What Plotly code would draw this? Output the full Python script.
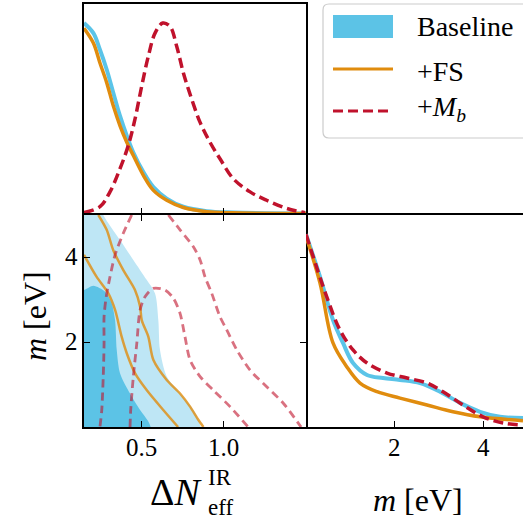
import plotly.graph_objects as go

W, H = 523, 522

# ---------------- data ----------------
# 1D posterior of Delta N_eff^IR (top-left)
dn_base_x = [0.15, 0.207, 0.247, 0.288, 0.328, 0.369, 0.41, 0.45, 0.511, 0.572, 0.653, 0.754, 0.896, 1.056, 1.5]
dn_base_p = [1.0, 0.947, 0.86, 0.756, 0.634, 0.512, 0.408, 0.32, 0.217, 0.138, 0.078, 0.035, 0.012, 0.005, 0.0]
dn_fs_x = [0.15, 0.207, 0.247, 0.288, 0.328, 0.369, 0.41, 0.45, 0.511, 0.572, 0.653, 0.754, 0.896, 1.05, 1.5]
dn_fs_p = [0.973, 0.895, 0.79, 0.687, 0.565, 0.46, 0.374, 0.304, 0.2, 0.121, 0.069, 0.031, 0.009, 0.003, 0.0]
dn_mb_x = [0.15, 0.247, 0.308, 0.369, 0.419, 0.46, 0.501, 0.541, 0.582, 0.629, 0.673, 0.714, 0.754, 0.805,
           0.856, 0.916, 0.977, 1.058, 1.16, 1.261, 1.383, 1.494]
dn_mb_p = [0.004, 0.035, 0.113, 0.235, 0.356, 0.495, 0.669, 0.825, 0.947, 1.0, 0.982, 0.877, 0.739, 0.6,
           0.478, 0.374, 0.287, 0.182, 0.113, 0.069, 0.026, 0.004]

# 1D posterior of m (bottom-right)
m_base_x = [0.0, 0.315, 0.608, 0.833, 1.059, 1.374, 1.734, 2.117, 2.568, 3.018, 3.468, 3.919, 4.369, 4.887]
m_base_p = [1.0, 0.78, 0.555, 0.436, 0.332, 0.27, 0.254, 0.244, 0.228, 0.183, 0.125, 0.079, 0.053, 0.047]
m_fs_x = [0.0, 0.315, 0.608, 0.917, 1.216, 1.6, 2.117, 2.725, 3.311, 3.919, 4.887]
m_fs_p = [0.99, 0.747, 0.436, 0.313, 0.228, 0.183, 0.15, 0.114, 0.079, 0.053, 0.033]
m_mb_x = [0.0, 0.466, 0.766, 1.059, 1.374, 1.824, 2.275, 2.725, 3.086, 3.536, 3.986, 4.437, 4.887]
m_mb_p = [1.0, 0.676, 0.503, 0.4, 0.332, 0.28, 0.254, 0.228, 0.183, 0.114, 0.053, 0.021, 0.01]

# 2D contours (Delta N_eff^IR, m)
base95_x = [0.267, 0.369, 0.45, 0.531, 0.582, 0.602, 0.612, 0.653, 0.734, 0.815, 0.856]
base95_m = [5.0, 4.41, 3.94, 3.47, 3.15, 2.52, 1.82, 1.19, 0.79, 0.40, 0.05]
base68_x = [0.15, 0.207, 0.278, 0.318, 0.339, 0.349, 0.369, 0.43, 0.491, 0.551]
base68_m = [3.23, 3.33, 3.19, 2.92, 2.52, 1.82, 1.27, 0.79, 0.40, 0.05]
fs68_x = [0.15, 0.227, 0.298, 0.339, 0.379, 0.41, 0.46, 0.531, 0.632, 0.722]
fs68_m = [4.06, 3.54, 3.15, 2.76, 2.13, 1.74, 1.27, 0.87, 0.40, 0.0]
fs95_x = [0.237, 0.288, 0.328, 0.389, 0.46, 0.491, 0.501, 0.541, 0.572, 0.653, 0.734, 0.795, 0.845, 0.876]
fs95_m = [5.0, 4.65, 4.17, 3.70, 3.23, 2.84, 2.52, 2.13, 1.58, 1.11, 0.79, 0.48, 0.17, 0.0]
mb95l_x = [0.44, 0.389, 0.339, 0.308, 0.284, 0.272, 0.272, 0.267, 0.258, 0.247]
mb95l_m = [5.0, 4.57, 4.06, 3.54, 3.04, 2.60, 1.97, 1.19, 0.40, 0.0]
mb95r_x = [0.663, 0.734, 0.815, 0.856, 0.886, 0.927, 0.977, 1.018, 1.079, 1.16, 1.261, 1.362, 1.47]
mb95r_m = [5.0, 4.65, 4.25, 3.94, 3.54, 3.15, 2.60, 2.29, 1.82, 1.34, 0.95, 0.56, 0.0]
mb68_x = [0.43, 0.434, 0.45, 0.471, 0.491, 0.521, 0.572, 0.643, 0.693, 0.734, 0.764, 0.795, 0.856, 0.936, 1.038, 1.148]
mb68_m = [0.0, 0.40, 1.19, 1.97, 2.76, 3.07, 3.27, 3.23, 3.04, 2.68, 2.13, 1.58, 1.19, 0.87, 0.48, 0.0]

dn_ticks = [0.5, 1.0]
dn_ticktext = ["0.5", "1.0"]
m_ticks = [2, 4]
m_ticktext = ["2", "4"]
legend_labels = ["Baseline", "+FS", "+<i>M</i><sub><i>b</i></sub>"]

# ---------------- style ----------------
FONT = "Liberation Serif"
BLUE = "#5BC4E8"
BLUE_DARK = "#5CC3E6"
BLUE_LIGHT = "#BEE6F5"
ORANGE = "#E08C0E"
ORANGE_2D = "rgba(224,140,14,0.8)"
RED = "#C0122C"
RED_2D = "rgba(192,18,44,0.6)"
DASH1 = "10px,5px"
DASH2 = "8px,5px"
LW = 1.6

DN_RANGE = [0.15, 1.5]
M_RANGE = [0.0, 5.0]
M_RANGE_R = [0.0, 5.0 * 217 / 222]
P_RANGE = [0.0, 1.1]


def px(x):
    return x / W


def py(y):
    return 1 - y / H


fig = go.Figure()

# top-left 1D
fig.add_trace(go.Scatter(x=dn_base_x, y=dn_base_p, mode="lines", line=dict(color=BLUE, width=4, shape="spline"),
                         xaxis="x", yaxis="y", showlegend=False))
fig.add_trace(go.Scatter(x=dn_fs_x, y=dn_fs_p, mode="lines", line=dict(color=ORANGE, width=3.5, shape="spline"),
                         xaxis="x", yaxis="y", showlegend=False))
fig.add_trace(go.Scatter(x=dn_mb_x, y=dn_mb_p, mode="lines",
                         line=dict(color=RED, width=3.5, shape="spline", dash=DASH1),
                         xaxis="x", yaxis="y", showlegend=False))

# bottom-left 2D
lo = DN_RANGE[0] - 0.3
poly95_x = [lo, lo, 0.2] + base95_x + [0.88, lo]
poly95_y = [-1.0, 6.0, 5.6] + base95_m + [-1.0, -1.0]
fig.add_trace(go.Scatter(x=poly95_x, y=poly95_y, mode="lines", fill="toself", fillcolor=BLUE_LIGHT,
                         line=dict(width=0, shape="spline", smoothing=0.8), xaxis="x2", yaxis="y2",
                         showlegend=False, hoverinfo="skip"))
poly68_x = [lo, lo] + base68_x + [0.58, lo]
poly68_y = [-1.0, 3.0] + base68_m + [-1.0, -1.0]
fig.add_trace(go.Scatter(x=poly68_x, y=poly68_y, mode="lines", fill="toself", fillcolor=BLUE_DARK,
                         line=dict(width=0, shape="spline", smoothing=0.8), xaxis="x2", yaxis="y2",
                         showlegend=False, hoverinfo="skip"))
for xs, ys in [(fs68_x, fs68_m), (fs95_x, fs95_m)]:
    fig.add_trace(go.Scatter(x=xs, y=ys, mode="lines",
                             line=dict(color=ORANGE_2D, width=2.5, shape="spline", smoothing=0.8),
                             xaxis="x2", yaxis="y2", showlegend=False))
for xs, ys in [(mb95l_x, mb95l_m), (mb95r_x, mb95r_m), (mb68_x, mb68_m)]:
    fig.add_trace(go.Scatter(x=xs, y=ys, mode="lines",
                             line=dict(color=RED_2D, width=2.8, shape="spline", smoothing=0.8, dash=DASH2),
                             xaxis="x2", yaxis="y2", showlegend=False))

# bottom-right 1D
fig.add_trace(go.Scatter(x=m_base_x, y=m_base_p, mode="lines", line=dict(color=BLUE, width=4, shape="spline"),
                         xaxis="x3", yaxis="y3", showlegend=False))
fig.add_trace(go.Scatter(x=m_fs_x, y=m_fs_p, mode="lines", line=dict(color=ORANGE, width=3.5, shape="spline"),
                         xaxis="x3", yaxis="y3", showlegend=False))
fig.add_trace(go.Scatter(x=m_mb_x, y=m_mb_p, mode="lines",
                         line=dict(color=RED, width=3.5, shape="spline", dash=DASH1),
                         xaxis="x3", yaxis="y3", showlegend=False))

ax_common = dict(showgrid=False, zeroline=False, showline=True, linecolor="black", linewidth=LW,
                 ticks="inside", ticklen=6, tickwidth=1.3, tickcolor="black", showticklabels=False)

x_l = [px(84), px(306)]
y_top = [py(215 - LW), py(4)]
y_bot = [py(427), py(215)]

fig.update_layout(
    width=W, height=H, margin=dict(l=0, r=0, t=0, b=0),
    paper_bgcolor="white", plot_bgcolor="rgba(0,0,0,0)",
    showlegend=False,
    font=dict(family=FONT, color="black"),
    xaxis=dict(**ax_common, domain=x_l, range=DN_RANGE, anchor="y", tickvals=dn_ticks, mirror=True),
    yaxis=dict(**{**ax_common, "ticks": ""}, domain=y_top, range=P_RANGE, anchor="x", mirror=True),
    xaxis2=dict(**ax_common, domain=x_l, range=DN_RANGE, anchor="y2", tickvals=dn_ticks, mirror="ticks"),
    yaxis2=dict(**ax_common, domain=y_bot, range=M_RANGE, anchor="x2", tickvals=m_ticks, mirror="ticks"),
    xaxis3=dict(**ax_common, domain=[px(306), 1.0], range=M_RANGE_R, anchor="y3", tickvals=m_ticks, mirror=True),
    yaxis3=dict(domain=y_bot, range=P_RANGE, anchor="x3", showgrid=False, zeroline=False,
                showline=False, showticklabels=False, ticks=""),
)

ann = []
TICK_FONT = dict(family=FONT, size=25, color="black")
# tick labels (positioned through the axes' scales)
for v, t in zip(dn_ticks, dn_ticktext):
    ann.append(dict(text=t, x=v, xref="x2", y=py(447), yref="paper", showarrow=False, font=TICK_FONT,
                    xanchor="center", yanchor="middle"))
for v, t in zip(m_ticks, m_ticktext):
    ann.append(dict(text=t, x=v, xref="x3", y=py(447), yref="paper", showarrow=False, font=TICK_FONT,
                    xanchor="center", yanchor="middle"))
    ann.append(dict(text=t, x=px(63), xref="paper", y=v, yref="y2", showarrow=False, font=TICK_FONT,
                    xanchor="left", yanchor="middle", yshift=1))

# axis titles
ann.append(dict(text="Δ<i>N</i>", x=px(176), y=py(492), xref="paper", yref="paper", showarrow=False,
                font=dict(family=FONT, size=38, color="black"), xanchor="center", yanchor="middle"))
ann.append(dict(text="IR<br>eff", x=px(207), y=py(492), xref="paper", yref="paper", showarrow=False,
                align="left", borderpad=0,
                font=dict(family=FONT, size=23, color="black"), xanchor="left", yanchor="middle"))
ann.append(dict(text="<i>m</i> [eV]", x=px(418), y=py(500), xref="paper", yref="paper", showarrow=False,
                font=dict(family=FONT, size=32, color="black"), xanchor="center", yanchor="middle"))
ann.append(dict(text="<i>m</i> [eV]", x=px(35), y=py(316), xref="paper", yref="paper", showarrow=False,
                textangle=-90, font=dict(family=FONT, size=32, color="black"),
                xanchor="center", yanchor="middle"))

# legend (drawn)
shapes = []
x0, x1, y0, y1, r = px(323), px(540), py(4), py(138), 6
rx, ry = r / W, r / H
path = (f"M {x0 + rx},{y0} L {x1 - rx},{y0} Q {x1},{y0} {x1},{y0 - ry} L {x1},{y1 + ry} "
        f"Q {x1},{y1} {x1 - rx},{y1} L {x0 + rx},{y1} Q {x0},{y1} {x0},{y1 + ry} L {x0},{y0 - ry} "
        f"Q {x0},{y0} {x0 + rx},{y0} Z")
shapes.append(dict(type="path", path=path, xref="paper", yref="paper",
                   line=dict(color="#CCCCCC", width=1.2), fillcolor="white", layer="above"))
shapes.append(dict(type="rect", x0=px(333), x1=px(393), y0=py(38), y1=py(15), xref="paper", yref="paper",
                   line=dict(width=0), fillcolor=BLUE_DARK, layer="above"))
shapes.append(dict(type="line", x0=px(333), x1=px(393), y0=py(69), y1=py(69), xref="paper", yref="paper",
                   line=dict(color=ORANGE, width=3), layer="above"))
shapes.append(dict(type="line", x0=px(333), x1=px(393), y0=py(111), y1=py(111), xref="paper", yref="paper",
                   line=dict(color=RED, width=3, dash=DASH1), layer="above"))
leg_y = [27, 71, 109]
for lab, yy in zip(legend_labels, leg_y):
    ann.append(dict(text=lab, x=px(415), y=py(yy), xref="paper", yref="paper", showarrow=False,
                    font=dict(family=FONT, size=28, color="black"), xanchor="left", yanchor="middle"))

fig.update_layout(annotations=ann, shapes=shapes)
fig.write_html("out.html", config={"displayModeBar": False},
               post_script="document.body.style.margin='0';document.body.style.overflow='hidden';")
